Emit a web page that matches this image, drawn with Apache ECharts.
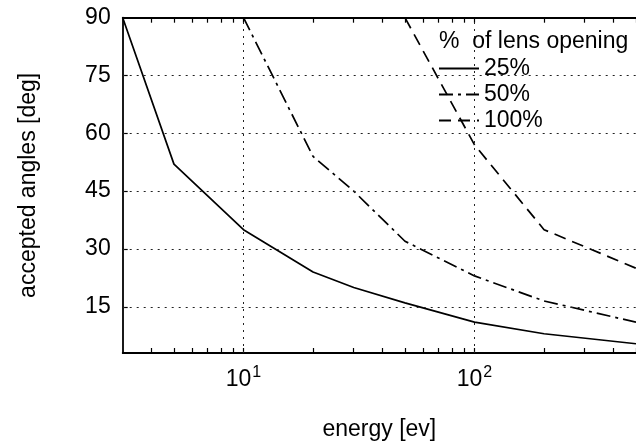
<!DOCTYPE html>
<html>
<head>
<meta charset="utf-8">
<script src="https://cdn.jsdelivr.net/npm/echarts@6/dist/echarts.min.js"></script>
<style>
  html, body { margin: 0; padding: 0; background: #fff; }
  #chart { width: 636px; height: 446px; }
</style>
</head>
<body>
<div id="chart"></div>
<script>
// energy [ev] vs accepted angle [deg], one line per lens opening
var energy25 = [3, 5, 10, 20, 30, 50, 100, 200, 500];
var angle25 = [90, 52, 35, 24, 20, 16, 11, 8, 5.4];
var energy50 = [10, 20, 30, 50, 100, 200, 500];
var angle50 = [90, 54, 45, 32, 23, 16.5, 11];
var energy100 = [50, 100, 200, 500];
var angle100 = [90, 57, 35, 25];
var seriesNames = ['25%', '50%', '100%'];

var xTickValues = [4, 5, 6, 7, 8, 9, 10, 20, 30, 40, 50, 60, 70, 80, 90, 100, 200, 300, 400, 500];
var xLabelValues = [10, 100];
var yTickValues = [15, 30, 45, 60, 75];
var yLabelValues = [15, 30, 45, 60, 75, 90];
var xGridValues = [10, 100];
var yGridValues = [15, 30, 45, 60, 75];

var FONT = 'Liberation Sans';
var FS = 23;

function pairs(xs, ys) {
  return xs.map(function (x, i) { return [x, ys[i]]; });
}

var chart = echarts.init(document.getElementById('chart'));

// dotted grid drawn as mark lines so it sits on the real tick values
var gridLines = [];
yGridValues.forEach(function (v) { gridLines.push({ yAxis: v }); });
xGridValues.forEach(function (v) { gridLines.push({ xAxis: v }); });

var xAxisBase = {
  type: 'log',
  logBase: 10,
  min: 3,
  max: 500,
  axisLine: { show: true, onZero: false, lineStyle: { color: '#000', width: 1.8 } },
  axisTick: { show: true, inside: true, length: 5, customValues: xTickValues, lineStyle: { color: '#000', width: 1.2 } },
  splitLine: { show: false },
  minorTick: { show: false }
};

var option = {
  animation: false,
  title: {
    text: '%  of lens opening',
    left: 439,
    top: 30,
    padding: 0,
    textStyle: { fontFamily: FONT, fontSize: FS, fontWeight: 'normal', color: '#000' }
  },
  legend: {
    data: seriesNames,
    orient: 'vertical',
    left: 438,
    top: 57,
    padding: 0,
    itemWidth: 40,
    itemHeight: 14,
    itemGap: 3,
    itemStyle: { opacity: 0 },
    textStyle: { fontFamily: FONT, fontSize: FS, color: '#000' }
  },
  grid: {
    left: 122.7,
    top: 17.7,
    bottom: 88.7,
    right: -9,
    containLabel: false
  },
  xAxis: [
    Object.assign({}, xAxisBase, {
      position: 'bottom',
      name: 'energy [ev]',
      nameLocation: 'middle',
      nameGap: 65,
      nameTextStyle: { fontFamily: FONT, fontSize: FS, color: '#000' },
      axisLabel: {
        customValues: xLabelValues,
        margin: 12,
        formatter: function (v) {
          return '{b|10}{s|' + Math.round(Math.log10(v)) + '}';
        },
        rich: {
          b: { fontFamily: FONT, fontSize: FS, color: '#000', verticalAlign: 'bottom' },
          s: { fontFamily: FONT, fontSize: 16, color: '#000', verticalAlign: 'bottom', padding: [0, 0, 10, 1] }
        }
      }
    }),
    Object.assign({}, xAxisBase, {
      position: 'top',
      axisLabel: { show: false }
    })
  ],
  yAxis: {
    type: 'value',
    min: 3,
    max: 90,
    name: 'accepted angles [deg]',
    nameLocation: 'middle',
    nameGap: 83,
    nameTextStyle: { fontFamily: FONT, fontSize: FS, color: '#000' },
    axisLine: { show: true, onZero: false, lineStyle: { color: '#000', width: 1.8 } },
    axisTick: { show: true, inside: true, length: 5, customValues: yTickValues, lineStyle: { color: '#000', width: 1.2 } },
    axisLabel: { customValues: yLabelValues, margin: 12, fontFamily: FONT, fontSize: FS, color: '#000' },
    splitLine: { show: false }
  },
  series: [
    {
      name: seriesNames[0],
      type: 'line',
      symbol: 'none',
      data: pairs(energy25, angle25),
      lineStyle: { color: '#000', width: 1.7, type: 'solid' },
      itemStyle: { color: '#000' },
      markLine: {
        silent: true,
        symbol: 'none',
        label: { show: false },
        lineStyle: { color: '#222', width: 1, type: [2, 5] },
        data: gridLines
      },
      z: 3
    },
    {
      name: seriesNames[1],
      type: 'line',
      symbol: 'none',
      data: pairs(energy50, angle50),
      lineStyle: { color: '#000', width: 1.7, type: [14, 5, 3, 5] },
      itemStyle: { color: '#000' },
      z: 3
    },
    {
      name: seriesNames[2],
      type: 'line',
      symbol: 'none',
      data: pairs(energy100, angle100),
      lineStyle: { color: '#000', width: 1.7, type: [12, 7] },
      itemStyle: { color: '#000' },
      z: 3
    }
  ]
};

chart.setOption(option);
</script>
</body>
</html>
